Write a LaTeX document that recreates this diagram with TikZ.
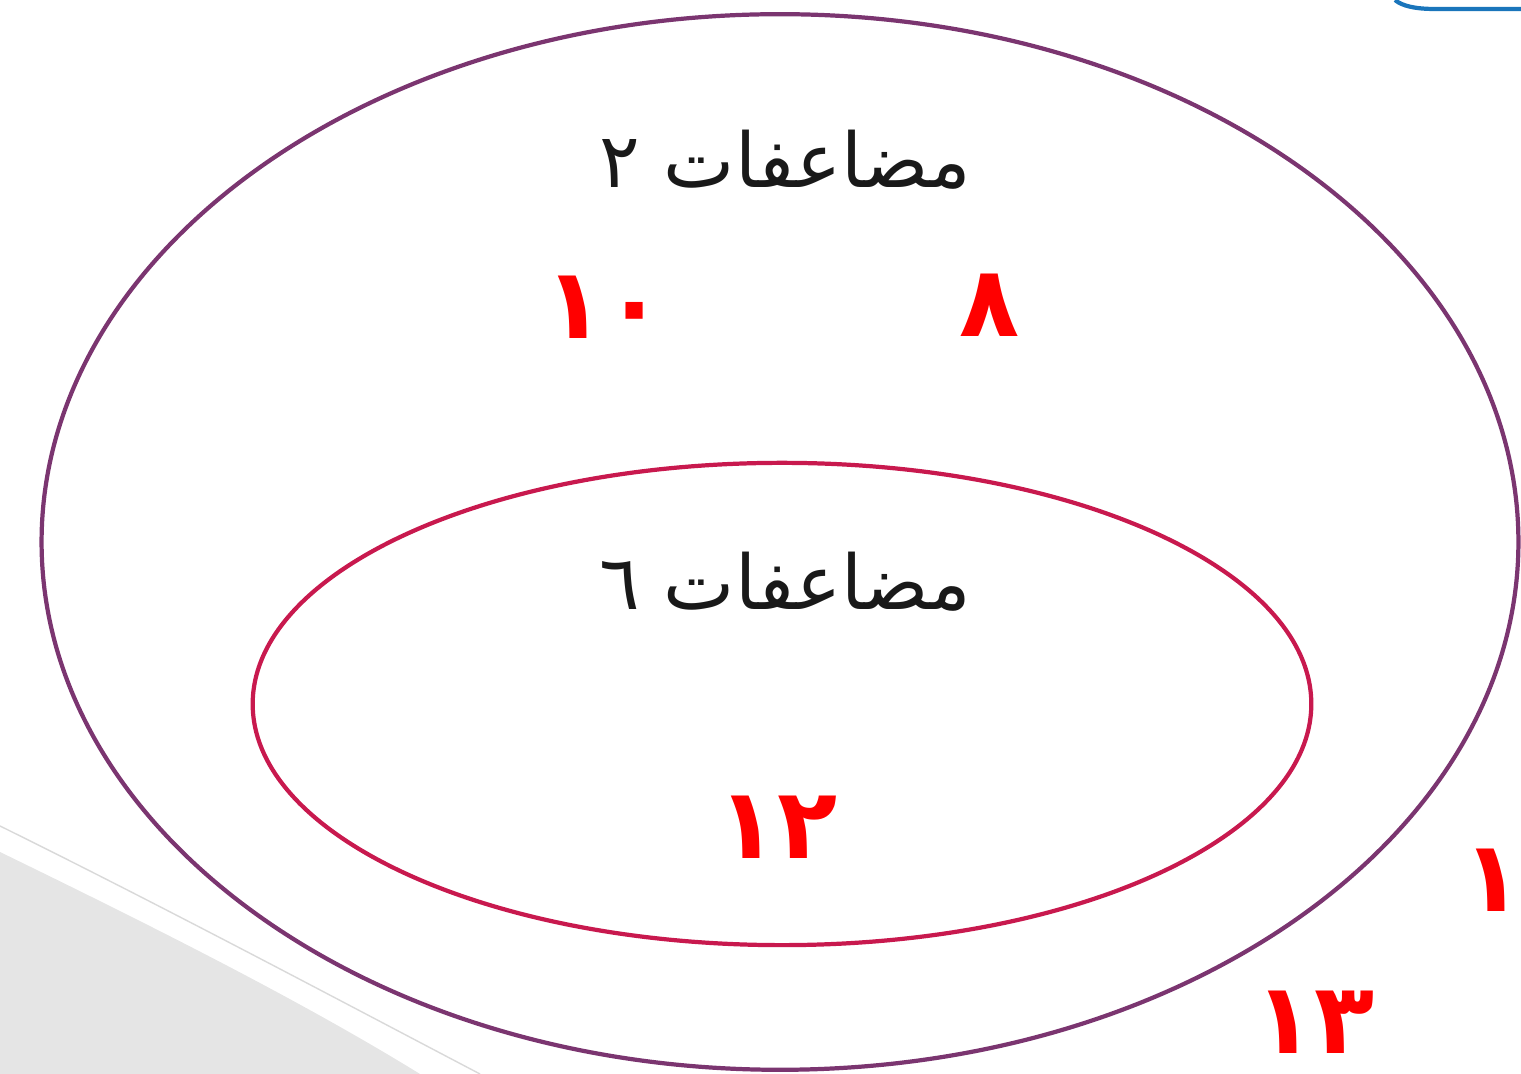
\documentclass[tikz,border=0pt]{standalone}
\usepackage{fontspec}
\usetikzlibrary{shapes.geometric}
\newfontfamily\arabicfont[Script=Arabic]{DejaVu Sans}
\TeXXeTstate=1
\definecolor{outerc}{HTML}{7B3570}
\definecolor{innerc}{HTML}{C8194E}
\definecolor{numred}{HTML}{FF0000}
\definecolor{bluec}{HTML}{1A75BB}
\begin{document}
\begin{tikzpicture}[x=0.01cm,y=-0.01cm,
  setring/.style={ellipse, draw, line width=1.2pt, inner sep=0pt},
  settitle/.style={font=\arabicfont\fontsize{21.5}{26}\selectfont, text=black!90},
  member/.style={font=\arabicfont\bfseries\fontsize{28}{34}\selectfont, text=numred, inner sep=0pt}]
\useasboundingbox (0,0) rectangle (1521,1074);
% background artefacts
\fill[gray!20] (0,852) .. controls (150,925) and (300,1000) .. (420,1074) -- (0,1074) -- cycle;
\draw[gray!30, line width=0.4pt] (0,826) .. controls (160,905) and (320,990) .. (480,1074);
\draw[bluec, line width=1.2pt] (1395,0) .. controls (1402,6) and (1415,9) .. (1435,9) -- (1521,9);
% sets
\node[setring, draw=outerc, minimum width=14.76cm, minimum height=10.55cm] (outer) at (780,542) {};
\node[setring, draw=innerc, minimum width=10.58cm, minimum height=4.82cm] (inner) at (782,704) {};
% titles
\node[settitle] (t2) at (785,160) {\beginR مضاعفات ٢\endR};
\node[settitle] (t6) at (785,582) {\beginR مضاعفات ٦\endR};
% members
\node[member] (n10) at (605,307) {\beginR ١٠\endR};
\node[member] (n8) at (990,305) {\beginR ٨\endR};
\node[member] (n12) at (778,827) {\beginR ١٢\endR};
\node[member] (n1) at (1493,880) {\beginR ١\endR};
\node[member] (n13) at (1315,1022) {\beginR ١٣\endR};
\end{tikzpicture}
\end{document}
